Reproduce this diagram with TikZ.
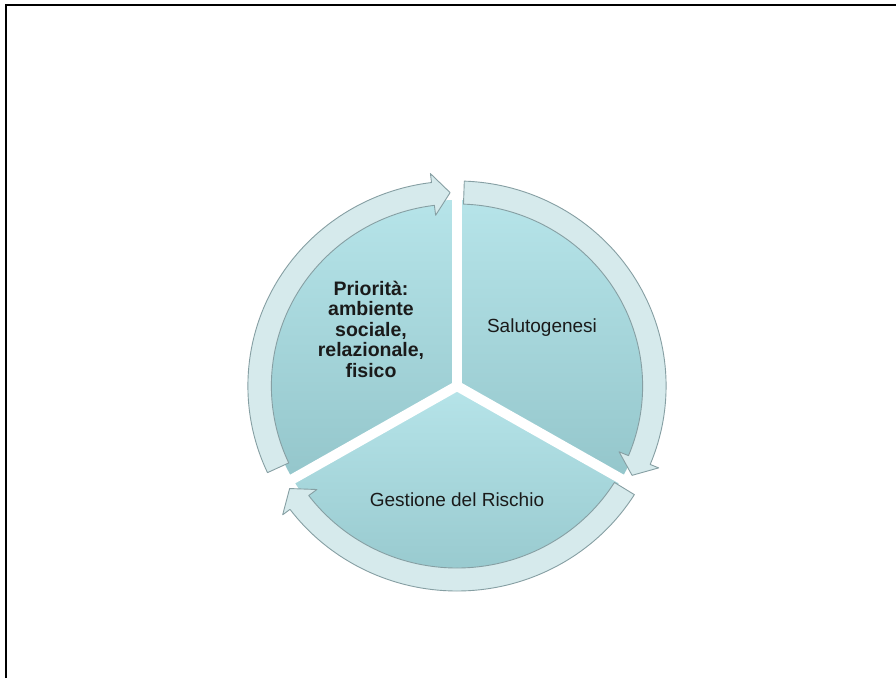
\documentclass[tikz,border=0pt]{standalone}
\usepackage{fontspec}
\setmainfont{Liberation Sans}
\definecolor{slicetop}{HTML}{B6E4E9}
\definecolor{slicebot}{HTML}{94C6CB}
\definecolor{bandfill}{HTML}{D6EAEC}
\definecolor{bandedge}{HTML}{869FA3}
\definecolor{txt}{HTML}{1A1A1A}
\newcommand{\RadIn}{182}
\newcommand{\RadOut}{205}
\newcommand{\RadMid}{193.5}
\newcommand{\RadBarbIn}{172}
\newcommand{\RadBarbOut}{214}
\newcommand{\cycarrow}[3]{%
  \path[arrowband] (#1:\RadOut) arc[start angle=#1, end angle=#2, radius=\RadOut]
    -- (#2:\RadBarbOut) -- (#3:\RadMid) -- (#2:\RadBarbIn) -- (#2:\RadIn)
    arc[start angle=#2, end angle=#1, radius=\RadIn] -- cycle;}
\tikzset{
  slice/.style={top color=slicetop, bottom color=slicebot, draw=none},
  gapline/.style={draw=white, line width=10pt},
  arrowband/.style={fill=bandfill, draw=bandedge, line width=0.9pt, line join=round},
  frame/.style={draw=black, line width=2pt},
  lbl/.style={text=txt, inner sep=0pt, align=center, font=\fontsize{19}{20.5}\selectfont},
  boldlbl/.style={text=txt, inner sep=0pt, align=center, font=\bfseries\fontsize{19.5}{20.5}\selectfont}
}
\begin{document}
\begin{tikzpicture}[x=1pt,y=1pt]
\useasboundingbox (0,0) rectangle (896,678);
\fill[white] (0,0) rectangle (896,678);
\draw[frame] (5.5,0) -- (5.5,672.5) -- (896,672.5);
\begin{scope}[shift={(457,292)}, xscale=1.02]
  % pie slices
  \path[slice] (0,0) -- (90:186) arc[start angle=90, end angle=210, radius=186] -- cycle;
  \path[slice] (0,0) -- (-30:186) arc[start angle=-30, end angle=90, radius=186] -- cycle;
  \path[slice] (0,0) -- (210:186) arc[start angle=210, end angle=330, radius=186] -- cycle;
  % gaps
  \draw[gapline] (0,0) -- (90:200);
  \draw[gapline] (0,0) -- (210:200);
  \draw[gapline] (0,0) -- (330:200);
  % circular arrows
  \cycarrow{205}{97}{92}
  \cycarrow{88}{-22.5}{-27.5}
  \cycarrow{328}{217}{212}
\end{scope}
\node[boldlbl] (prio) at (371,349) {Priorità:\\ambiente\\sociale,\\relazionale,\\fisico};
\node[lbl] (salu) at (542,350) {Salutogenesi};
\node[lbl] (gest) at (457,178) {Gestione del Rischio};
\end{tikzpicture}
\end{document}
